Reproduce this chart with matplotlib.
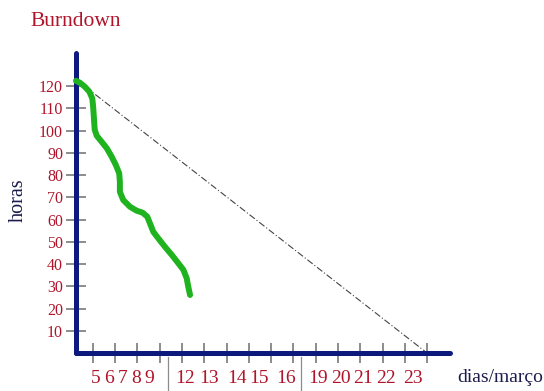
import matplotlib
matplotlib.use("Agg")
import matplotlib.pyplot as plt

# ---- data ----
days = [5, 6, 7, 8, 9, 12, 13, 14, 15, 16, 19, 20, 21, 22, 23]
hour_ticks = [10, 20, 30, 40, 50, 60, 70, 80, 90, 100, 110, 120]
day_slots = list(range(1, 17))          # tick marks along the time axis
# actual burndown (x in day-slot units, y in hours)
actual_x = [0.24, 0.42, 0.64, 0.84, 0.97, 1.01, 1.05, 1.08, 1.17, 1.39, 1.62,
            1.84, 2.03, 2.18, 2.21, 2.21, 2.36, 2.66, 2.96, 3.23, 3.44, 3.56,
            3.71, 3.93, 4.23, 4.54, 4.83, 5.06, 5.21, 5.28, 5.36]
actual_h = [122.4, 121.5, 119.7, 117.5, 114.5, 110.8, 104.8, 100.4, 97.7, 95.0, 92.1,
            88.3, 84.5, 80.8, 77.0, 72.5, 68.8, 65.8, 64.0, 63.1, 61.3, 58.3,
            54.5, 51.6, 47.8, 44.1, 40.4, 37.4, 33.6, 29.8, 26.1]
ideal_x = [0.24, 16.0]
ideal_h = [123.0, 0.0]

# ---- layout ----
label_x = [1.14, 1.72, 2.33, 2.93, 3.54, 5.13, 6.21, 7.47, 8.45, 9.67,
           11.1, 12.14, 13.12, 14.16, 15.37]
week_sep_x = [4.39, 10.34]

RED = "#b0142a"
NAVY = "#0c1a7e"
DARK = "#1c1c4c"
GRAY = "#8c8c8c"
SERIF = ["Liberation Serif", "DejaVu Serif"]

fig = plt.figure(figsize=(5.44, 3.91), dpi=100)
ax = fig.add_axes([76 / 544, (391 - 353) / 391, (450 - 76) / 544, (353 - 53) / 391])
ax.set_xlim(0.24, 17.03)
ax.set_ylim(0, 134.9)

for s in ["top", "right"]:
    ax.spines[s].set_visible(False)
for s in ["left", "bottom"]:
    ax.spines[s].set_color(NAVY)
    ax.spines[s].set_linewidth(3.6)
    ax.spines[s].set_capstyle("round")
    ax.spines[s].set_zorder(3)

ax.set_yticks(hour_ticks)
ax.set_yticklabels([str(v) for v in hour_ticks], fontfamily=SERIF, fontsize=11.5, color=RED)
ax.tick_params(axis="y", direction="inout", length=13.7, width=1.4, color=GRAY, pad=2.5)

ax.set_xticks(day_slots, minor=True)
ax.set_xticks(label_x)
ax.set_xticklabels([str(d) for d in days], fontfamily=SERIF, fontsize=14, color=RED)
ax.tick_params(axis="x", which="minor", direction="inout", length=14.4, width=1.4, color=GRAY)
ax.tick_params(axis="x", which="major", length=0, pad=12.5)

for sx in week_sep_x:
    ax.plot([sx, sx], [-1.8, -17.5], color=GRAY, lw=0.9, clip_on=False)

ax.plot(ideal_x, ideal_h, color="#444444", lw=0.8, linestyle=(0, (6, 2, 1, 2)), zorder=2)
ax.plot(actual_x, actual_h, color="#1fb41f", lw=4.3, solid_capstyle="round",
        solid_joinstyle="round", zorder=4, clip_on=False)

fig.text(30 / 544, 1 - 21 / 391, "Burndown", fontfamily=SERIF, fontsize=15.5,
         color=RED, ha="left", va="center")
fig.text(18 / 544, 1 - 200 / 391, "horas", fontfamily=SERIF, fontsize=14.5,
         color=DARK, ha="center", va="center", rotation=90)
fig.text(457 / 544, 1 - 378 / 391, "dias/março", fontfamily=SERIF, fontsize=14,
         color=DARK, ha="left", va="center")

fig.savefig("out.png", dpi=100)
